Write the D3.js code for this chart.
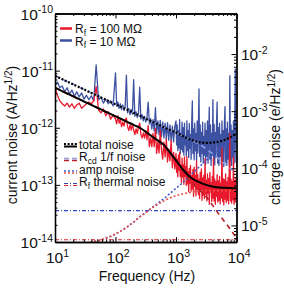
<!DOCTYPE html>
<html>
<head>
	<script src="https://cdn.jsdelivr.net/npm/d3@7"></script>
	<style>
		body { margin: 0; background: #fff; }
		text { font-family: "Liberation Sans", Arial, Helvetica, sans-serif; fill: #111; }
	</style>
</head>
<body>
	<script>
		// measured spectra, values are log10 of the noise in A/Hz^1/2
		// sampled at log10(f) = 1.00..1.96 (step .04), 2.00..2.98 (.02), 3.00..4.00 (.01)
		var redA = [-11.30,-11.43,-11.53,-11.58,-11.62,-11.57,-11.64,-11.58,-11.66,-11.60,-11.57,-11.66,-11.62,-11.58,-11.55,
			-11.58,-11.53,-11.28,-11.69,-11.74,-11.67,-11.79,-11.72,-11.85,-11.78];
		var redB = [-11.85,-11.93,-11.79,-11.92,-11.86,-11.98,-11.90,-11.97,-11.86,-11.83,-11.98,-12.05,-11.95,-12.04,-11.93,
			-12.04,-12.12,-12.02,-12.10,-11.99,-11.92,-12.12,-12.18,-12.09,-12.18,-12.05,-12.21,-11.96,-12.33,-12.18,
			-12.33,-12.10,-12.33,-12.01,-12.45,-12.25,-12.44,-12.04,-12.39,-12.55,-12.25,-12.51,-12.20,-12.60,-12.37,
			-12.58,-12.22,-12.70,-12.43,-12.72];
		var redC = [-12.45,-12.78,-12.55,-12.86,-12.48,-12.74,-12.43,-12.85,-12.66,-12.96,
			-12.53,-12.86,-12.65,-12.99,-12.51,-12.85,-12.68,-13.01,-12.51,-12.98,
			-12.77,-13.12,-12.71,-12.97,-12.66,-13.11,-12.84,-13.07,-12.73,-13.20,
			-12.69,-13.02,-12.84,-13.19,-12.58,-13.08,-12.82,-13.17,-12.90,-13.24,
			-12.78,-13.08,-12.72,-13.27,-12.88,-13.18,-12.83,-13.24,-12.54,-13.16,
			-12.92,-13.28,-12.81,-13.15,-12.89,-13.34,-12.78,-13.12,-12.96,-13.29,
			-12.85,-13.23,-12.53,-13.28,-12.90,-13.34,-12.94,-13.20,-12.82,-13.30,
			-12.93,-13.27,-12.85,-13.33,-12.97,-13.23,-12.35,-13.29,-12.89,-13.35,
			-12.91,-13.25,-12.81,-13.31,-12.95,-13.27,-12.87,-13.33,-12.75,-12.10,
			-13.28,-12.90,-13.32,-12.94,-13.26,-12.51,-13.34,-12.92,-13.30,-12.88,-13.26];

		var blueA = [-11.25,-11.20,-11.30,-11.27,-11.37,-11.30,-11.41,-11.34,-11.45,-11.37,-11.46,-11.39,-11.50,-11.43,-11.51,
			-11.44,-11.53,-10.90,-11.51,-11.46,-11.57,-11.50,-11.58,-11.53,-11.62];
		var blueB = [-11.04,-11.62,-11.55,-11.66,-11.58,-11.68,-11.60,-11.70,-11.63,-11.08,
			-11.74,-11.66,-11.77,-11.68,-11.76,-11.16,-11.80,-11.72,-11.82,-11.75,
			-11.29,-11.85,-11.77,-11.88,-11.80,-11.90,-11.82,-11.55,-11.93,-11.84,
			-12.02,-11.86,-12.06,-11.65,-12.10,-11.88,-12.12,-11.87,-12.15,-11.90,
			-12.18,-11.92,-12.20,-11.91,-12.22,-11.95,-12.24,-11.97,-12.25,-11.98];
		var blueC = [-11.88,-12.30,-11.95,-12.40,-12.05,-12.35,-11.86,-12.45,-12.10,-12.38,
			-11.90,-12.42,-12.00,-12.48,-11.92,-12.30,-12.15,-12.50,-11.88,-12.40,
			-12.05,-12.52,-11.93,-12.36,-12.12,-12.55,-11.90,-11.53,-12.45,-12.02,
			-12.56,-11.92,-12.40,-12.10,-12.58,-11.88,-12.44,-12.00,-11.32,-12.50,
			-11.95,-12.60,-12.08,-12.45,-11.90,-12.62,-12.15,-12.48,-11.92,-12.64,
			-12.05,-12.50,-11.88,-12.62,-12.12,-11.64,-12.55,-11.95,-12.66,-12.10,
			-12.48,-11.51,-12.60,-11.94,-12.65,-12.08,-12.52,-11.90,-11.55,-12.62,
			-12.00,-12.66,-11.92,-12.50,-12.12,-12.64,-11.88,-12.58,-12.05,-12.68,
			-11.93,-11.63,-12.60,-12.02,-12.66,-11.90,-12.55,-12.10,-12.64,-11.09,
			-12.58,-11.95,-12.66,-12.05,-12.52,-11.88,-12.62,-12.00,-10.97,-12.60,-11.92];

		// model curves, log10 values at log10(f) = 1.0, 1.1, ... 4.0
		var totalRed = [-11.30,-11.35,-11.40,-11.45,-11.50,-11.55,-11.60,-11.65,-11.70,-11.75,-11.80,-11.85,-11.90,-11.95,-12.00,
			-12.07,-12.15,-12.22,-12.30,-12.43,-12.57,-12.71,-12.83,-12.91,-12.96,-13.00,-13.03,-13.045,-13.05,-13.055,-13.06];
		var totalBlue = [-11.09,-11.14,-11.19,-11.24,-11.29,-11.34,-11.39,-11.44,-11.49,-11.54,-11.59,-11.64,-11.69,-11.74,-11.79,
			-11.84,-11.89,-11.94,-11.99,-12.04,-12.085,-12.14,-12.19,-12.23,-12.255,-12.265,-12.26,-12.245,-12.215,-12.165,-12.10];
		var rcdRed = [-11.30,-11.35,-11.40,-11.45,-11.50,-11.55,-11.60,-11.65,-11.70,-11.75,-11.80,-11.85,-11.90,-11.95,-12.00,
			-12.08,-12.16,-12.24,-12.33,-12.45,-12.58,-12.73,-12.88,-13.00,-13.10,-13.21,-13.35,-13.50,-13.64,-13.78,-13.93];
		var rcdBlue = [-11.09,-11.14,-11.19,-11.24,-11.29,-11.34,-11.39,-11.44,-11.49,-11.54,-11.59,-11.64,-11.69,-11.74,-11.79,
			-11.84,-11.89,-11.94,-11.99,-12.04,-12.09,-12.14,-12.19,-12.24,-12.30,-12.37,-12.45,-12.54,-12.63,-12.71,-12.82];
		var ampRed = [-14.12,-14.11,-14.10,-14.08,-14.05,-14.02,-14.00,-13.98,-13.95,-13.91,-13.86,-13.80,-13.73,-13.65,-13.56,
			-13.49,-13.41,-13.34,-13.28,-13.23,-13.19,-13.16,-13.14,-13.12,-13.11,-13.10,-13.10,-13.10,-13.10,-13.10,-13.10];
		var ampBlue = [-14.12,-14.11,-14.10,-14.08,-14.05,-14.02,-14.00,-13.98,-13.95,-13.91,-13.86,-13.80,-13.73,-13.65,-13.56,
			-13.48,-13.40,-13.32,-13.24,-13.15,-13.06,-12.97,-12.87,-12.77,-12.67,-12.57,-12.48,-12.39,-12.31,-12.23,-12.15];
		var thermalRed = [-13.96, -13.96];
		var thermalBlue = [-13.45, -13.45];

		var xTicks = [10, 100, 1000, 10000];
		var yTicks = [-10, -11, -12, -13, -14];
		var yRightTicks = [-2, -3, -4, -5];

		var mL = 55, mR = 236.5, mT = 13.5, mB = 242;

		var svg = d3.select('body').append('svg')
			.attr('width', 284)
			.attr('height', 288);

		var x = d3.scaleLog().domain([10, 1e4]).range([mL, mR]);
		var y = d3.scaleLog().domain([1e-14, 1e-10]).range([mB, mT]);
		var yR = d3.scaleLog().domain([Math.pow(10, -5.29), Math.pow(10, -1.29)]).range([mB, mT]);

		// frequency grids
		var gridA = d3.range(25).map(function (i) { return 1 + i * 0.04; });
		var gridB = d3.range(50).map(function (i) { return 2 + i * 0.02; });
		var gridC = d3.range(101).map(function (i) { return 3 + i * 0.01; });
		var dataGrid = gridA.concat(gridB, gridC);
		var modelGrid = d3.range(31).map(function (i) { return 1 + i * 0.1; });

		function pts(grid, vals) {
			return vals.map(function (v, i) {
				return { f: Math.pow(10, grid[i]), v: Math.pow(10, v) };
			});
		}

		var line = d3.line()
			.x(function (d) { return x(d.f); })
			.y(function (d) { return y(d.v); });
		var smooth = d3.line()
			.x(function (d) { return x(d.f); })
			.y(function (d) { return y(d.v); })
			.curve(d3.curveMonotoneX);

		svg.append('clipPath').attr('id', 'plot')
			.append('rect')
			.attr('x', mL).attr('y', mT)
			.attr('width', mR - mL).attr('height', mB - mT);

		var plot = svg.append('g').attr('clip-path', 'url(#plot)');

		function drawLine(gen, data, color, w, dash) {
			plot.append('path')
				.attr('d', gen(data))
				.attr('fill', 'none')
				.attr('stroke', color)
				.attr('stroke-width', w)
				.attr('stroke-linejoin', 'round')
				.attr('stroke-dasharray', dash || null);
		}

		drawLine(line, pts(dataGrid, blueA.concat(blueB, blueC)), '#3d51a3', 1.3);
		drawLine(line, pts(dataGrid, redA.concat(redB, redC)), '#e8192c', 1.3);

		drawLine(smooth, pts([1, 4], thermalBlue), '#3346c4', 1.1, '4,2,1,2');
		drawLine(smooth, pts([1, 4], thermalRed), '#e3262b', 1.1, '4,2,1,2');
		drawLine(smooth, pts(modelGrid, ampBlue), '#4757c8', 1.6, '2,2');
		drawLine(smooth, pts(modelGrid, ampRed), '#ea5148', 1.6, '2,2');
		drawLine(smooth, pts(modelGrid, rcdBlue), '#8e9ce6', 1.6, '5,4');
		drawLine(smooth, pts(modelGrid, rcdRed), '#b5202a', 1.6, '5,4');
		drawLine(smooth, pts(modelGrid, totalRed), '#000', 2);
		drawLine(smooth, pts(modelGrid, totalBlue), '#000', 2.2, '2,1.6');

		// frame with inward ticks
		function minors(lo, hi) {
			var out = [];
			for (var e = lo; e < hi; e++) {
				for (var k = 2; k < 10; k++) out.push(k * Math.pow(10, e));
			}
			return out;
		}

		function frame(axisFn, scale, majors, minorVals, tx, ty) {
			var g1 = svg.append('g').attr('transform', 'translate(' + tx + ',' + ty + ')')
				.call(axisFn(scale).tickValues(majors).tickSize(5).tickSizeOuter(0).tickFormat(''));
			var g2 = svg.append('g').attr('transform', 'translate(' + tx + ',' + ty + ')')
				.call(axisFn(scale).tickValues(minorVals).tickSize(2.5).tickSizeOuter(0).tickFormat(''));
			[g1, g2].forEach(function (g) {
				g.select('.domain').attr('stroke', '#000').attr('stroke-width', 1.3);
				g.selectAll('.tick line').attr('stroke', '#000');
			});
		}

		var yMajors = yTicks.map(function (e) { return Math.pow(10, e); });
		var yRMajors = yRightTicks.map(function (e) { return Math.pow(10, e); });
		var yRMinors = minors(-6, -1).filter(function (v) {
			return v > yR.domain()[0] && v < yR.domain()[1];
		});

		frame(d3.axisTop, x, xTicks, minors(1, 4), 0, mB);
		frame(d3.axisBottom, x, xTicks, minors(1, 4), 0, mT);
		frame(d3.axisRight, y, yMajors, minors(-14, -10), mL, 0);
		frame(d3.axisLeft, yR, yRMajors, yRMinors, mR, 0);

		function powText(px, py, exp, anchor) {
			var t = svg.append('text')
				.attr('x', px).attr('y', py)
				.attr('text-anchor', anchor)
				.style('font-size', '15.5px');
			t.append('tspan').text('10');
			t.append('tspan').attr('dy', -6.5).style('font-size', '10.5px').text(exp);
		}

		yTicks.forEach(function (e) { powText(53, y(Math.pow(10, e)) + 6, String(e), 'end'); });
		yRightTicks.forEach(function (e) { powText(241, yR(Math.pow(10, e)) + 6, String(e), 'start'); });
		xTicks.forEach(function (v) { powText(x(v) - 9, 263, String(Math.round(Math.log10(v))), 'start'); });

		// axis titles
		svg.append('text')
			.attr('x', 147).attr('y', 281)
			.attr('text-anchor', 'middle')
			.style('font-size', '14px')
			.text('Frequency (Hz)');

		function unitTitle(tx, ty, label, unit) {
			var t = svg.append('text')
				.attr('transform', 'translate(' + tx + ',' + ty + ') rotate(-90)')
				.attr('text-anchor', 'middle')
				.style('font-size', '14px');
			t.append('tspan').text(label + ' (' + unit + '/Hz');
			t.append('tspan').attr('dy', -5).style('font-size', '10px').text('1/2');
			t.append('tspan').attr('dy', 5).text(')');
		}
		unitTitle(17, 135, 'current noise', 'A');
		unitTitle(280, 137, 'charge noise', 'e');

		// legends
		function subLabel(px, py, main, sub, rest) {
			var t = svg.append('text').attr('x', px).attr('y', py).style('font-size', '12px');
			t.append('tspan').text(main);
			t.append('tspan').attr('dy', 2.5).style('font-size', '8.5px').text(sub);
			t.append('tspan').attr('dy', -2.5).text(rest);
		}
		function sample(x1, x2, yy, color, w, dash) {
			svg.append('line')
				.attr('x1', x1).attr('x2', x2).attr('y1', yy).attr('y2', yy)
				.attr('stroke', color).attr('stroke-width', w)
				.attr('stroke-dasharray', dash || null);
		}

		sample(60, 72, 28.5, '#e8192c', 2.5);
		subLabel(75, 33, 'R', 'f', ' = 100 M\u03a9');
		sample(60, 72, 40.5, '#3d51a3', 2.5);
		subLabel(75, 45.5, 'R', 'f', ' = 10 M\u03a9');

		sample(64, 77, 146.5, '#000', 2);
		sample(64, 77, 144, '#000', 2, '2,1.6');
		svg.append('text').attr('x', 79).attr('y', 148.5).style('font-size', '12px').text('total noise');

		sample(64, 77, 158.5, '#8e9ce6', 1.6, '5,3');
		sample(64, 77, 160.5, '#b5202a', 1.6, '5,3');
		subLabel(79, 161, 'R', 'cd', ' 1/f noise');

		sample(64, 77, 171, '#4757c8', 1.6, '2,2');
		sample(64, 77, 173, '#ea5148', 1.6, '2,2');
		svg.append('text').attr('x', 79).attr('y', 173.5).style('font-size', '12px').text('amp noise');

		sample(64, 77, 183.5, '#3346c4', 1.2, '4,2,1,2');
		sample(64, 77, 185.5, '#e3262b', 1.2, '4,2,1,2');
		subLabel(79, 186, 'R', 'f', ' thermal noise');
	</script>
</body>
</html>
